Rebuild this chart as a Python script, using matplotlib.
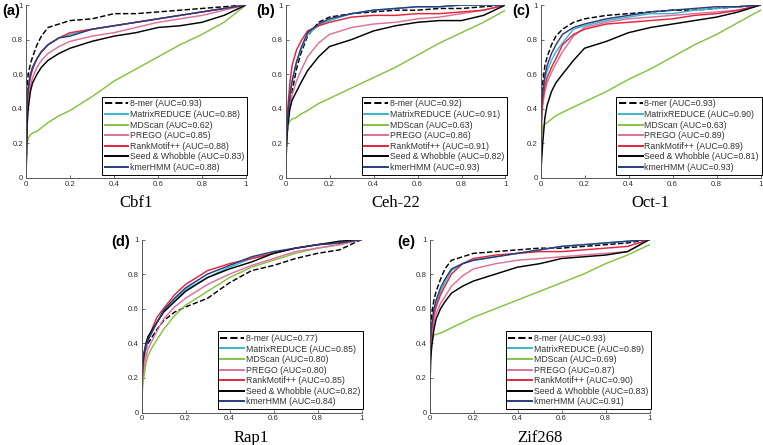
"""
ROC curves of seven motif finders on five transcription factors.
"""

import matplotlib
matplotlib.use("Agg")
import matplotlib.pyplot as plt

# false positive rate grid the curves were read on
fpr = [0, 0.005, 0.01, 0.02, 0.03, 0.05, 0.07, 0.1, 0.15, 0.2,
       0.3, 0.4, 0.5, 0.6, 0.7, 0.8, 0.9, 1.0]

methods = ["8-mer", "MatrixREDUCE", "MDScan", "PREGO",
           "RankMotif++", "Seed & Whobble", "kmerHMM"]
colors = ["black", "#3ab7cc", "#84c241", "#e0709c", "#e2253d", "black", "#2c3a7e"]
styles = ["--", "-", "-", "-", "-", "-", "-"]

panels = ["(a)", "(b)", "(c)", "(d)", "(e)"]
factors = ["Cbf1", "Ceh-22", "Oct-1", "Rap1", "Zif268"]

auc = {
    "Cbf1":   [0.93, 0.88, 0.62, 0.85, 0.88, 0.83, 0.88],
    "Ceh-22": [0.92, 0.91, 0.63, 0.86, 0.91, 0.82, 0.93],
    "Oct-1":  [0.93, 0.90, 0.63, 0.89, 0.89, 0.81, 0.93],
    "Rap1":   [0.77, 0.85, 0.80, 0.80, 0.85, 0.82, 0.84],
    "Zif268": [0.93, 0.89, 0.69, 0.87, 0.90, 0.83, 0.91],
}

# true positive rates, one list per method (same order as methods)
tpr_cbf1 = [
    [0, .50, .60, .66, .70, .77, .82, .87, .89, .91, .92, .95, .95, .96, .97, .98, .99, 1],
    [0, .45, .52, .60, .64, .69, .73, .77, .81, .83, .86, .88, .90, .92, .94, .96, .98, 1],
    [0, .20, .23, .25, .26, .27, .29, .32, .36, .39, .47, .56, .63, .70, .77, .83, .90, 1],
    [0, .35, .45, .53, .58, .64, .68, .72, .76, .79, .82, .84, .87, .90, .92, .94, .97, 1],
    [0, .42, .50, .58, .63, .69, .73, .77, .81, .84, .86, .88, .90, .92, .94, .96, .98, 1],
    [0, .30, .40, .50, .55, .60, .64, .68, .72, .75, .79, .82, .84, .87, .88, .90, .94, 1],
    [0, .45, .52, .60, .64, .69, .73, .77, .81, .82, .86, .88, .90, .92, .94, .96, .98, 1],
]
tpr_ceh22 = [
    [0, .20, .30, .42, .50, .63, .72, .82, .90, .93, .95, .96, .97, .97, .98, .98, .99, 1],
    [0, .25, .35, .48, .56, .67, .74, .83, .88, .91, .95, .97, .98, .99, .99, 1, 1, 1],
    [0, .20, .30, .33, .34, .35, .37, .39, .43, .46, .52, .58, .64, .71, .78, .84, .90, .97],
    [0, .25, .33, .42, .48, .56, .62, .70, .78, .83, .87, .89, .90, .92, .93, .95, .97, 1],
    [0, .30, .40, .55, .65, .74, .79, .85, .88, .90, .93, .94, .94, .95, .95, .96, .97, 1],
    [0, .20, .30, .40, .45, .50, .55, .62, .70, .76, .80, .85, .88, .90, .91, .91, .94, 1],
    [0, .25, .35, .48, .56, .67, .75, .84, .89, .92, .95, .97, .98, .99, .99, 1, 1, 1],
]
tpr_oct1 = [
    [0, .45, .55, .65, .70, .77, .82, .86, .90, .92, .94, .95, .96, .97, .97, .98, .99, 1],
    [0, .40, .48, .57, .62, .68, .73, .78, .86, .88, .91, .93, .95, .95, .97, .98, .99, 1],
    [0, .22, .30, .31, .32, .34, .36, .38, .41, .44, .50, .57, .63, .70, .77, .83, .90, .97],
    [0, .33, .42, .50, .55, .61, .66, .73, .82, .87, .90, .92, .93, .94, .95, .96, .97, 1],
    [0, .36, .45, .53, .58, .64, .69, .77, .83, .86, .89, .90, .91, .92, .94, .95, .97, 1],
    [0, .10, .20, .35, .42, .50, .55, .60, .68, .75, .79, .84, .87, .89, .91, .93, .96, 1],
    [0, .42, .50, .59, .65, .72, .77, .83, .87, .89, .92, .94, .96, .97, .98, .99, .99, 1],
]
tpr_rap1 = [
    [0, .30, .33, .37, .40, .44, .48, .53, .58, .61, .66, .75, .82, .85, .89, .92, .94, 1],
    [0, .25, .30, .37, .42, .47, .52, .58, .65, .71, .78, .84, .89, .92, .95, .97, .98, 1],
    [0, .15, .20, .28, .33, .38, .42, .48, .56, .62, .70, .78, .84, .88, .92, .95, .97, 1],
    [0, .20, .25, .32, .37, .42, .47, .54, .61, .66, .74, .80, .85, .89, .93, .95, .97, 1],
    [0, .25, .30, .38, .42, .49, .55, .60, .68, .74, .82, .86, .89, .92, .95, .97, .98, 1],
    [0, .28, .33, .40, .44, .48, .52, .58, .64, .70, .78, .83, .87, .92, .95, .97, .99, 1],
    [0, .30, .34, .39, .42, .47, .52, .59, .66, .72, .80, .85, .90, .93, .95, .97, .98, 1],
]
tpr_zif268 = [
    [0, .50, .57, .65, .70, .77, .83, .88, .90, .92, .93, .94, .95, .95, .96, .97, .98, 1],
    [0, .42, .50, .58, .63, .70, .75, .82, .86, .88, .90, .92, .94, .96, .97, .98, .99, 1],
    [0, .30, .40, .45, .45, .46, .47, .49, .52, .55, .60, .65, .70, .75, .80, .86, .91, .97],
    [0, .35, .42, .52, .57, .63, .67, .73, .79, .83, .86, .88, .89, .90, .91, .92, .93, 1],
    [0, .40, .48, .56, .61, .68, .73, .80, .86, .89, .91, .92, .93, .93, .94, .95, .96, 1],
    [0, .30, .38, .48, .54, .60, .64, .69, .73, .76, .80, .84, .86, .89, .90, .91, .93, 1],
    [0, .43, .51, .60, .65, .72, .77, .83, .86, .88, .90, .92, .94, .96, .97, .98, .99, 1],
]
tprs = [tpr_cbf1, tpr_ceh22, tpr_oct1, tpr_rap1, tpr_zif268]

W, H = 763, 445
# axes boxes in pixels: left, top, width, height
boxes = [(26, 5, 220, 173), (285.5, 5, 220, 173), (540.5, 5, 220, 173),
         (141.5, 239.5, 220, 173), (429.5, 239.5, 220, 173)]
label_pos = [(11, 11), (266, 11), (521, 11), (121, 242), (406, 242)]

fig = plt.figure(figsize=(W / 100, H / 100), dpi=100)

for i, name in enumerate(factors):
    l, t, w, h = boxes[i]
    ax = fig.add_axes([l / W, 1 - (t + h) / H, w / W, h / H])
    for j, m in enumerate(methods):
        ax.plot(fpr, tprs[i][j], color=colors[j], linestyle=styles[j], lw=1.05,
                label=f"{m} (AUC={auc[name][j]:.2f})")
    ax.set_xlim(0, 1)
    ax.set_ylim(0, 1)
    ax.set_xticks([0, 0.2, 0.4, 0.6, 0.8, 1])
    ax.set_yticks([0, 0.2, 0.4, 0.6, 0.8, 1])
    ax.set_xticklabels(["0", "0.2", "0.4", "0.6", "0.8", "1"])
    ax.set_yticklabels(["0", "0.2", "0.4", "0.6", "0.8", "1"])
    ax.tick_params(direction="in", length=2.5, width=0.6, labelsize=5.7,
                   labelcolor="#333333", color="#555555", pad=2)
    for s in ["top", "right"]:
        ax.spines[s].set_visible(False)
    for s in ["left", "bottom"]:
        ax.spines[s].set_linewidth(0.7)
        ax.spines[s].set_color("#555555")
    for lab in ax.get_xticklabels() + ax.get_yticklabels():
        lab.set_family("Liberation Sans")

    leg = ax.legend(loc="lower right", bbox_to_anchor=(1.005, 0.02),
                    prop={"family": "Liberation Sans", "size": 6.3},
                    frameon=True, fancybox=False, edgecolor="black",
                    handlelength=2.7, handletextpad=0.2, labelspacing=0.18,
                    borderpad=0.3, borderaxespad=0)
    leg.get_frame().set_linewidth(0.7)
    leg.get_frame().set_alpha(1)
    for line in leg.get_lines():
        line.set_linewidth(1.4)
    for txt in leg.get_texts():
        txt.set_color("#333333")

    # factor name under the panel
    fig.text((l + w / 2) / W, 1 - (t + h + 25) / H, name, ha="center", va="center",
             family="Liberation Serif", fontsize=12)
    # panel letter
    lx, ly = label_pos[i]
    fig.text(lx / W, 1 - ly / H, panels[i], ha="center", va="center",
             family="Liberation Sans", fontweight="bold", fontsize=10.5)

fig.savefig("out.png", dpi=100)
